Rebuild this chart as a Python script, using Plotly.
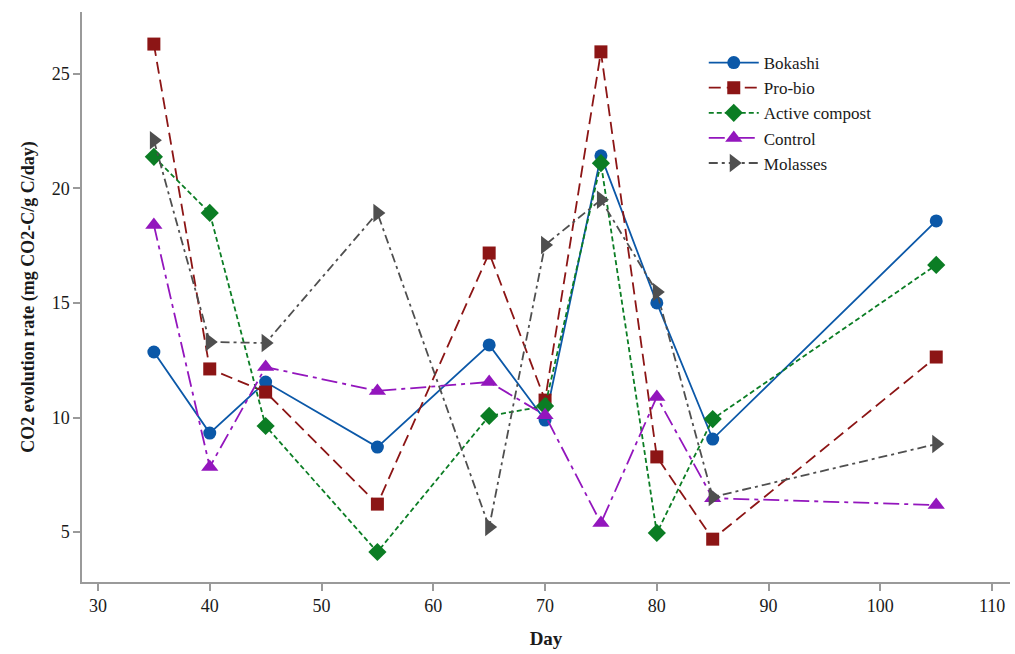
import plotly.graph_objects as go

# Sampling days
days = [35, 40, 45, 55, 65, 70, 75, 80, 85, 105]

# CO2 evolution rate (mg CO2-C/g C/day) per treatment
bokashi = [12.86, 9.32, 11.55, 8.71, 13.17, 9.89, 21.42, 15.0, 9.06, 18.58]
pro_bio = [26.3, 12.12, 11.11, 6.22, 17.18, 10.76, 25.96, 8.28, 4.69, 12.64]
active_compost = [21.38, 18.93, 9.63, 4.13, 10.07, 10.5, 21.1, 4.96, 9.93, 16.66]
control = [18.4, 7.84, 12.2, 11.16, 11.55, 10.1, 5.39, 10.9, 6.48, 6.18]
molasses = [22.1, 13.3, 13.25, 18.93, 5.22, 17.53, 19.5, 15.48, 6.53, 8.84]

x_ticks = [30, 40, 50, 60, 70, 80, 90, 100, 110]
y_ticks = [5, 10, 15, 20, 25]

series = [
    ("Bokashi", bokashi, "#0b58a8", "solid", "circle", 13),
    ("Pro-bio", pro_bio, "#8c1515", "12px,6px", "square", 13),
    ("Active compost", active_compost, "#0b7d24", "5px,3px", "diamond", 14),
    ("Control", control, "#9316bd", "16px,5px,4px,5px", "triangle-up", 15),
    ("Molasses", molasses, "#4f4f4f", "9px,4px,3px,4px", "triangle-right", 16),
]

FONT = "Liberation Serif"

fig = go.Figure()
for i, (name, vals, color, dash, symbol, msize) in enumerate(series):
    fig.add_trace(go.Scatter(
        x=days, y=vals, name=name, mode="lines+markers",
        legendgroup=f"g{i}",
        line=dict(color=color, width=1.8, dash=dash),
        marker=dict(symbol=symbol, size=msize, color=color,
                    line=dict(width=0)),
    ))

axis_common = dict(
    showgrid=False, zeroline=False, showline=True,
    linecolor="#9a9a9a", linewidth=1.5,
    ticks="outside", ticklen=7, tickwidth=1.5, tickcolor="#9a9a9a",
    tickfont=dict(family=FONT, size=18, color="#1a1a1a"),
)

fig.update_layout(
    width=1015, height=654,
    margin=dict(l=82, r=5, t=12, b=72),
    paper_bgcolor="white", plot_bgcolor="white",
    font=dict(family=FONT, color="#1a1a1a"),
    xaxis=dict(
        range=[28.57, 111.6], tickvals=x_ticks,
        title=dict(text="<b>Day</b>", font=dict(family=FONT, size=19), standoff=16),
        **axis_common,
    ),
    yaxis=dict(
        range=[2.82, 27.7], tickvals=y_ticks,
        title=dict(text="<b>CO2 evolution rate (mg CO2-C/g C/day)</b>",
                   font=dict(family=FONT, size=18), standoff=12),
        **axis_common,
    ),
    legend=dict(
        x=0.67, y=0.942, xanchor="left", yanchor="top",
        bgcolor="rgba(255,255,255,0)",
        font=dict(family=FONT, size=17, color="#1a1a1a"),
        itemwidth=50, tracegroupgap=0,
    ),
    showlegend=True,
)

fig.write_html("out.html")
